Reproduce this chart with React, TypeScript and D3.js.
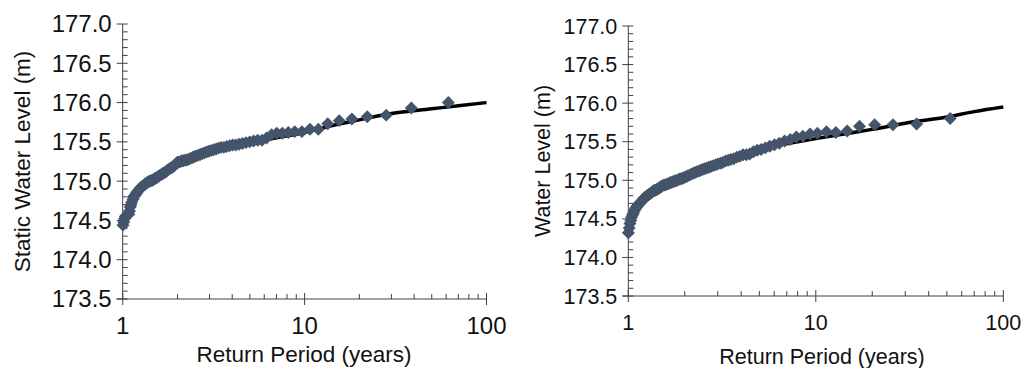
import * as d3 from "d3";
import React from "react";

// return periods (years) and levels
const leftReturnPeriod = [61.7, 38.6, 28.1, 22.1, 18.2, 15.5, 13.4, 11.9, 10.7, 9.66, 8.83, 8.14, 7.54, 7.03, 6.58, 6.18, 5.83, 5.52, 5.24, 4.99, 4.76, 4.55, 4.36, 4.18, 4.02, 3.87, 3.73, 3.6, 3.47, 3.36, 3.26, 3.16, 3.06, 2.97, 2.89, 2.81, 2.74, 2.67, 2.6, 2.53, 2.47, 2.42, 2.36, 2.31, 2.26, 2.21, 2.16, 2.12, 2.08, 2.03, 2.0, 1.96, 1.92, 1.89, 1.85, 1.82, 1.79, 1.76, 1.73, 1.7, 1.67, 1.65, 1.62, 1.59, 1.57, 1.55, 1.52, 1.5, 1.48, 1.46, 1.44, 1.42, 1.4, 1.38, 1.36, 1.34, 1.33, 1.31, 1.29, 1.28, 1.26, 1.25, 1.23, 1.22, 1.2, 1.19, 1.18, 1.16, 1.15, 1.14, 1.12, 1.11, 1.1, 1.09, 1.08, 1.07, 1.06, 1.045, 1.034, 1.024, 1.014, 1.004]
const leftLevel = [176.0, 175.93, 175.84, 175.82, 175.79, 175.77, 175.73, 175.66, 175.66, 175.63, 175.63, 175.62, 175.61, 175.61, 175.59, 175.55, 175.52, 175.52, 175.51, 175.5, 175.49, 175.48, 175.47, 175.46, 175.46, 175.45, 175.44, 175.43, 175.43, 175.42, 175.41, 175.4, 175.39, 175.38, 175.37, 175.36, 175.35, 175.34, 175.33, 175.32, 175.31, 175.3, 175.29, 175.28, 175.27, 175.27, 175.26, 175.26, 175.25, 175.24, 175.24, 175.22, 175.2, 175.18, 175.17, 175.16, 175.15, 175.14, 175.12, 175.11, 175.1, 175.09, 175.08, 175.07, 175.06, 175.05, 175.04, 175.03, 175.02, 175.01, 175.01, 175.0, 175.0, 174.99, 174.98, 174.97, 174.96, 174.95, 174.94, 174.93, 174.92, 174.91, 174.89, 174.88, 174.86, 174.85, 174.83, 174.81, 174.8, 174.77, 174.73, 174.7, 174.67, 174.62, 174.58, 174.58, 174.57, 174.56, 174.55, 174.52, 174.48, 174.44]
const leftFitT = [5, 10, 15, 20, 30, 50, 70, 100]
const leftFitLevel = [175.5, 175.62, 175.72, 175.78, 175.86, 175.92, 175.96, 176.0]

const rightReturnPeriod = [52.1, 34.5, 25.8, 20.6, 17.1, 14.7, 12.8, 11.4, 10.2, 9.31, 8.53, 7.87, 7.31, 6.82, 6.39, 6.02, 5.68, 5.38, 5.11, 4.87, 4.65, 4.44, 4.26, 4.09, 3.93, 3.79, 3.65, 3.52, 3.41, 3.3, 3.19, 3.1, 3.0, 2.92, 2.84, 2.76, 2.69, 2.62, 2.55, 2.49, 2.43, 2.38, 2.32, 2.27, 2.22, 2.17, 2.13, 2.08, 2.04, 2.0, 1.96, 1.93, 1.89, 1.86, 1.82, 1.79, 1.76, 1.73, 1.7, 1.67, 1.65, 1.62, 1.6, 1.57, 1.55, 1.52, 1.5, 1.48, 1.46, 1.44, 1.42, 1.4, 1.38, 1.36, 1.34, 1.33, 1.31, 1.29, 1.28, 1.26, 1.245, 1.23, 1.215, 1.2, 1.19, 1.17, 1.16, 1.147, 1.134, 1.122, 1.11, 1.098, 1.086, 1.075, 1.063, 1.052, 1.042, 1.031, 1.021, 1.011, 1.001]
const rightLevel = [175.8, 175.73, 175.72, 175.72, 175.7, 175.64, 175.62, 175.63, 175.61, 175.6, 175.57, 175.56, 175.53, 175.51, 175.48, 175.46, 175.44, 175.42, 175.4, 175.39, 175.37, 175.34, 175.33, 175.33, 175.31, 175.3, 175.28, 175.27, 175.26, 175.25, 175.23, 175.22, 175.21, 175.2, 175.19, 175.18, 175.17, 175.16, 175.15, 175.14, 175.13, 175.12, 175.11, 175.1, 175.09, 175.08, 175.07, 175.06, 175.05, 175.04, 175.03, 175.02, 175.02, 175.01, 175.0, 174.99, 174.99, 174.98, 174.97, 174.97, 174.96, 174.95, 174.95, 174.94, 174.94, 174.93, 174.92, 174.91, 174.9, 174.89, 174.88, 174.87, 174.87, 174.86, 174.85, 174.84, 174.83, 174.82, 174.81, 174.8, 174.79, 174.78, 174.77, 174.75, 174.74, 174.72, 174.71, 174.7, 174.69, 174.67, 174.66, 174.64, 174.62, 174.6, 174.57, 174.55, 174.52, 174.48, 174.44, 174.38, 174.32]
const rightFitT = [5, 8, 10, 15, 20, 30, 50, 70, 100]
const rightFitLevel = [175.41, 175.5, 175.54, 175.61, 175.66, 175.74, 175.82, 175.89, 175.95]

const yTicks = [173.5, 174.0, 174.5, 175.0, 175.5, 176.0, 176.5, 177.0]
const yMinor = d3.range(1735, 1771).map(v => v / 10).filter(v => Math.round(v * 10) % 5 !== 0)
const xTicks = [1, 10, 100]
const xMinor = [2, 3, 4, 5, 6, 7, 8, 9, 20, 30, 40, 50, 60, 70, 80, 90]

const AXIS = "#404040"
const MARK = "#44546a"
const FONT = "'Liberation Sans', Arial, sans-serif"

type PanelProps = {
  T: number[]; level: number[]; fitT: number[]; fitLevel: number[]
  x0: number; x1: number; y0: number; y1: number
  yTitle: string; yTitleX: number; tickFont: number; titleFont: number
  xLabelY: number; xTitleY: number; xTitleX: number
}

const Panel: React.FC<PanelProps> = (p) => {
  const x = d3.scaleLog([1, 100], [p.x0, p.x1])
  const y = d3.scaleLinear([173.5, 177], [p.y0, p.y1])
  const line = d3.line<number>().x((_, i) => x(p.fitT[i])).y(d => y(d)).curve(d3.curveMonotoneX)
  const diamond = d3.symbol(d3.symbolSquare, 84)()
  return (
    <g fontFamily={FONT}>
      <line x1={p.x0} x2={p.x0} y1={p.y0} y2={p.y1} stroke={AXIS} />
      <line x1={p.x0 - 6} x2={p.x1} y1={p.y0} y2={p.y0} stroke={AXIS} />
      {yTicks.map(t => <line key={"ym" + t} x1={p.x0 - 6} x2={p.x0 + 5} y1={y(t)} y2={y(t)} stroke={AXIS} />)}
      {yMinor.map(t => <line key={"yn" + t} x1={p.x0} x2={p.x0 + 5} y1={y(t)} y2={y(t)} stroke={AXIS} />)}
      {xTicks.map(t => <line key={"xm" + t} x1={x(t)} x2={x(t)} y1={p.y0 - 6} y2={p.y0 + 6} stroke={AXIS} />)}
      {xMinor.map(t => <line key={"xn" + t} x1={x(t)} x2={x(t)} y1={p.y0 - 5} y2={p.y0} stroke={AXIS} />)}
      {yTicks.map(t => <text key={"yl" + t} x={p.x0 - 11} y={y(t)} dy="0.35em" textAnchor="end" fontSize={p.tickFont} fill="#111">{t.toFixed(1)}</text>)}
      {xTicks.map(t => <text key={"xl" + t} x={x(t)} y={p.xLabelY} dy="0.35em" textAnchor="middle" fontSize={p.tickFont} fill="#111">{t}</text>)}
      <text x={p.xTitleX} y={p.xTitleY} dy="0.35em" textAnchor="middle" fontSize={p.titleFont} fill="#111">Return Period (years)</text>
      <text transform={`translate(${p.yTitleX},${(p.y0 + p.y1) / 2}) rotate(-90)`} dy="0.35em" textAnchor="middle" fontSize={p.titleFont} fill="#111">{p.yTitle}</text>
      <path d={line(p.fitLevel) ?? ""} fill="none" stroke="#000" strokeWidth={3.5} />
      {p.level.map((v, i) => <path key={i} d={diamond ?? ""} transform={`translate(${x(p.T[i])},${y(v)}) rotate(45)`} fill={MARK} />)}
    </g>
  )
}

export default function App() {
  return (
    <svg width={1021} height={368} style={{ position: "absolute", left: 0, top: 0, background: "#fff" }}>
      <Panel T={leftReturnPeriod} level={leftLevel} fitT={leftFitT} fitLevel={leftFitLevel}
        x0={122.7} x1={486.5} y0={299} y1={24} yTitle="Static Water Level (m)" yTitleX={22}
        tickFont={24} titleFont={22.5} xLabelY={326} xTitleY={354} xTitleX={304} />
      <Panel T={rightReturnPeriod} level={rightLevel} fitT={rightFitT} fitLevel={rightFitLevel}
        x0={628.3} x1={1003.3} y0={296} y1={26} yTitle="Water Level (m)" yTitleX={542}
        tickFont={21.5} titleFont={21.5} xLabelY={322} xTitleY={356} xTitleX={822} />
    </svg>
  )
}
